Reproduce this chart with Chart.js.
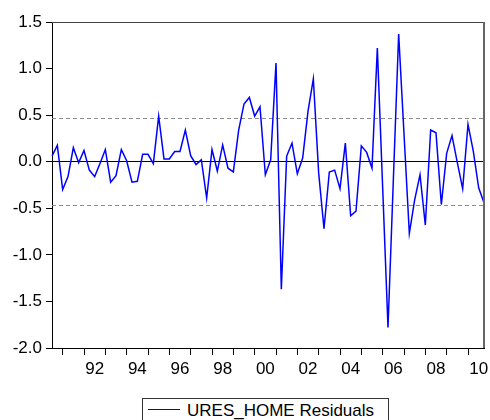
<!DOCTYPE html>
<html>
<head>
<meta charset="utf-8">
<script src="https://cdn.jsdelivr.net/npm/chart.js@4/dist/chart.umd.min.js"></script>
<style>
  html, body { margin: 0; padding: 0; background: #fff; overflow: hidden; }
  #wrap { position: relative; width: 490px; height: 420px; }
  #legend {
    position: absolute; left: 142px; top: 398px; width: 247px; height: 28px;
    box-sizing: border-box; border: 1px solid #333; background: #fff;
    font: 17px "Liberation Sans", Arial, sans-serif; color: #000; white-space: nowrap;
  }
  #legend .swatch { position: absolute; left: 5px; top: 10px; width: 32px; height: 0; border-top: 1px solid #0000ff; }
  #legend .txt { position: absolute; left: 44px; top: 0; line-height: 24px; }
</style>
</head>
<body>
<div id="wrap">
  <canvas id="chart"></canvas>
  <div id="legend"><span class="swatch"></span><span class="txt">URES_HOME Residuals</span></div>
</div>
<script>
// quarterly observations 1990Q3 .. 2010Q4
const firstYear = 1990, firstQuarter = 3, lastYear = 2010, lastQuarter = 4;
const quarters = [];
for (let y = firstYear; y <= lastYear; y++) {
  for (let q = 1; q <= 4; q++) {
    if (y === firstYear && q < firstQuarter) continue;
    if (y === lastYear && q > lastQuarter) continue;
    quarters.push(y + "Q" + q);
  }
}

const residuals = [
  0.06, 0.175, -0.30, -0.16, 0.15, -0.01, 0.12, -0.09, -0.16, -0.02,
  0.13, -0.22, -0.15, 0.13, 0.01, -0.22, -0.21, 0.08, 0.08, -0.02,
  0.49, 0.03, 0.03, 0.11, 0.11, 0.34, 0.065, -0.03, 0.02, -0.39,
  0.13, -0.10, 0.18, -0.07, -0.11, 0.34, 0.62, 0.69, 0.49, 0.59,
  -0.14, 0.02, 1.06, -1.37, 0.06, 0.20, -0.13, 0.04, 0.54, 0.89,
  -0.12, -0.72, -0.11, -0.09, -0.29, 0.20, -0.58, -0.53, 0.17, 0.10,
  -0.07, 1.22, -0.28, -1.78, -0.20, 1.37, 0.30, -0.77, -0.41, -0.14,
  -0.68, 0.34, 0.31, -0.46, 0.09, 0.28, -0.01, -0.29, 0.40, 0.11,
  -0.28, -0.44
];

const xTickLabels = ["92", "94", "96", "98", "00", "02", "04", "06", "08", "10"];
const yMin = -2.0, yMax = 1.5, yStep = 0.5;
const seBand = 0.467; // +/- standard error lines

Chart.defaults.font.family = "'Liberation Sans', Arial, sans-serif";
Chart.defaults.font.size = 17;
Chart.defaults.color = "#000";

const bandLines = {
  id: "bandLines",
  beforeDatasetsDraw(chart) {
    const { ctx, chartArea: a, scales: { y } } = chart;
    ctx.save();
    ctx.strokeStyle = "#8c8c8c";
    ctx.lineWidth = 1;
    ctx.setLineDash([4, 3]);
    [seBand, -seBand].forEach(v => {
      const py = Math.round(y.getPixelForValue(v)) + 0.5;
      ctx.beginPath();
      ctx.moveTo(a.left, py);
      ctx.lineTo(a.right, py);
      ctx.stroke();
    });
    ctx.restore();
  },
  afterDraw(chart) {
    const { ctx, chartArea: a } = chart;
    ctx.save();
    ctx.strokeStyle = "#444";
    ctx.lineWidth = 1;
    ctx.beginPath();
    ctx.moveTo(a.left, a.top + 0.5);
    ctx.lineTo(a.right, a.top + 0.5);
    ctx.stroke();
    ctx.lineWidth = 2;
    ctx.strokeStyle = "#666";
    ctx.beginPath();
    ctx.moveTo(a.right, a.top);
    ctx.lineTo(a.right, a.bottom);
    ctx.stroke();
    ctx.restore();
  }
};

new Chart(document.getElementById("chart"), {
  type: "line",
  data: {
    labels: quarters,
    datasets: [{
      label: "URES_HOME Residuals",
      data: residuals,
      borderColor: "#0000ff",
      borderWidth: 1.5,
      pointRadius: 0,
      tension: 0,
      fill: false
    }]
  },
  options: {
    responsive: true,
    maintainAspectRatio: false,
    animation: false,
    layout: { padding: { top: 22, right: 6, bottom: 42, left: 0 } },
    plugins: { legend: { display: false }, tooltip: { enabled: false } },
    scales: {
      x: {
        type: "category",
        offset: false,
        border: { display: true, color: "#000", width: 1 },
        grid: { drawOnChartArea: false, drawTicks: true, tickLength: 7, tickColor: "#000" },
        afterBuildTicks(scale) {
          scale.ticks = scale.ticks.filter(t => quarters[t.value].endsWith("Q1"));
        },
        afterFit(scale) { scale.height = 30; },
        ticks: {
          autoSkip: false,
          maxRotation: 0,
          padding: 4,
          labelOffset: 10.7,
          callback(value) {
            const year = parseInt(quarters[value], 10);
            const k = (year - 1992) / 2;
            return Number.isInteger(k) && k >= 0 ? xTickLabels[k] : "";
          }
        }
      },
      y: {
        min: yMin,
        max: yMax,
        border: { display: true, color: "#000", width: 1 },
        grid: {
          drawOnChartArea: true,
          color: c => (c.tick && c.tick.value === 0 ? "#000" : "rgba(0,0,0,0)"),
          tickColor: "#000",
          tickLength: 6
        },
        afterFit(scale) { scale.width = 52; },
        ticks: {
          stepSize: yStep,
          padding: 4,
          callback: v => v.toFixed(1)
        }
      }
    }
  },
  plugins: [bandLines]
});
</script>
</body>
</html>
